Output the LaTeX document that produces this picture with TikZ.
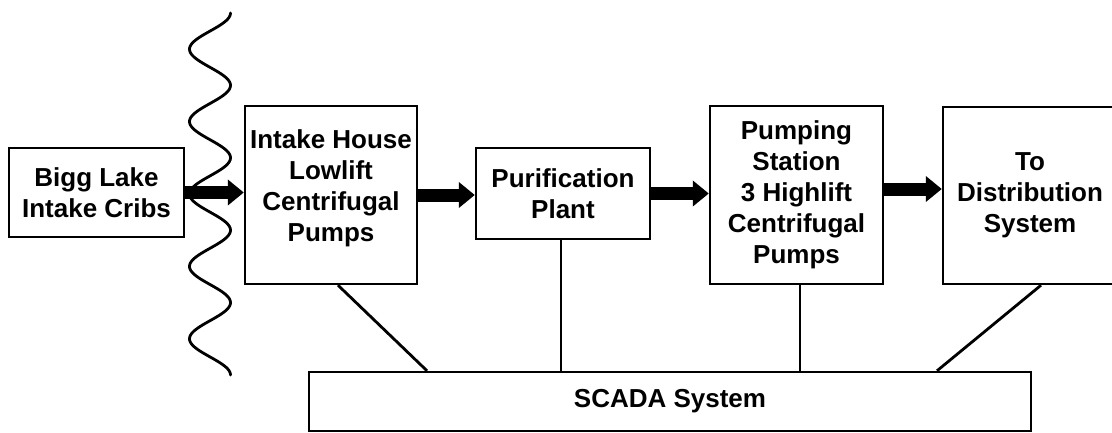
\documentclass[tikz,border=0pt]{standalone}
\usepackage{fontspec}
\setmainfont{Liberation Sans}
\usetikzlibrary{arrows.meta}

\begin{document}
\begin{tikzpicture}[x=1pt, y=-1pt,
  box/.style={draw, line width=2.4pt, inner sep=0pt, align=center,
    font=\fontsize{26}{31}\selectfont\bfseries},
  flow/.style={line width=13pt, -{Triangle[length=16pt, width=25pt]}},
  link/.style={line width=2.8pt},
  wave/.style={line width=2.8pt, line join=round, line cap=round}]

\useasboundingbox[fill=white] (0,0) rectangle (1112,432);

% process boxes
\node[box, minimum width=175pt, minimum height=89pt] (crib) at (96.5,192.5)
  {Bigg Lake\\Intake Cribs};
\node[box, minimum width=172pt, minimum height=178pt] (intake) at (331,195)
  {Intake House\\Lowlift\\Centrifugal\\Pumps\\[-12pt]};
\node[box, minimum width=174pt, minimum height=91pt] (plant) at (563,193.5)
  {Purification\\Plant};
\node[box, minimum width=173pt, minimum height=178pt] (station) at (796.5,195)
  {Pumping\\Station\\3 Highlift\\Centrifugal\\Pumps};
\node[box, minimum width=174pt, minimum height=177pt] (dist) at (1030,195.5)
  {To\\Distribution\\System};
\node[box, minimum width=722pt, minimum height=59pt] (scada) at (670,401.5)
  {SCADA System};

% shoreline
\draw[wave] plot[domain=13:375, samples=240, smooth]
  ({210+20.5*cos(4.9724*(\x-13))}, \x);

% water flow
\draw[flow] (crib.east) -- (crib.east -| intake.west);
\draw[flow] (intake.east) -- (intake.east -| plant.west);
\draw[flow] (plant.east) -- (plant.east -| station.west);
\draw[flow] ([yshift=6pt]station.east) -- ([yshift=6pt]station.east -| dist.west);

% SCADA links
\draw[link] ([xshift=7pt]intake.south) -- ([xshift=-243pt]scada.north);
\draw[link] ([xshift=-2pt]plant.south) -- ([xshift=-2pt]plant.south |- scada.north);
\draw[link] ([xshift=3.5pt]station.south) -- ([xshift=3.5pt]station.south |- scada.north);
\draw[link] ([xshift=11pt]dist.south) -- ([xshift=267pt]scada.north);
\end{tikzpicture}
\end{document}
